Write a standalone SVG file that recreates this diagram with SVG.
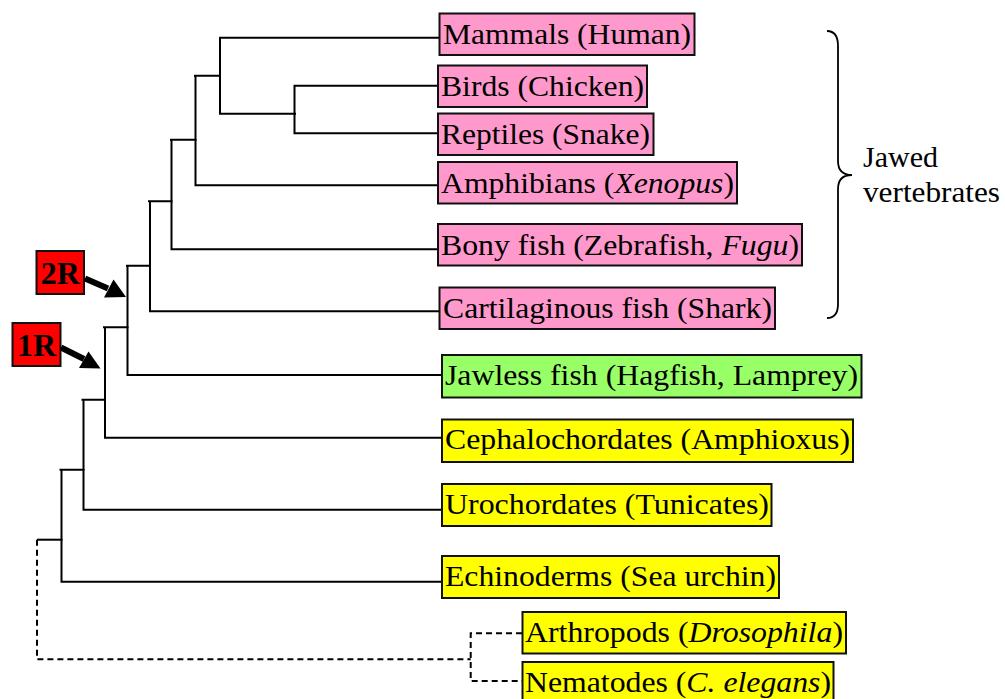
<svg xmlns="http://www.w3.org/2000/svg" width="1005" height="699" viewBox="0 0 1005 699">
<style>
.box{stroke:#111;stroke-width:2}
.pink{fill:#ff99cc}
.green{fill:#99ff66}
.yellow{fill:#ffff00}
.red{fill:#ff0000}
.lbl{font-family:"Liberation Serif","Times New Roman",serif;font-size:30px;fill:#000}
.tag{font-family:"Liberation Serif","Times New Roman",serif;font-size:32px;font-weight:bold;fill:#000}
.it{font-style:italic}
.edge{fill:none;stroke:#000;stroke-width:2;stroke-linecap:square}
.dash{fill:none;stroke:#000;stroke-width:2;stroke-dasharray:6,4}
</style>
<rect width="1005" height="699" fill="#fff"/>
<g id="connectors">
<path class="edge" d="M220 37.7H440M220 37.7V113.7H295"/>
<path class="edge" d="M294.5 85.7V133.3M294.5 85.7H438M294.5 133.3H438"/>
<path class="edge" d="M195 75.7H220M195.5 75.7V185.3H438"/>
<path class="edge" d="M171 139.7H195.5M171.5 139.7V249.3H438"/>
<path class="edge" d="M149 201.3H171.5M150 201.3V311.3H439"/>
<path class="edge" d="M127 265.7H150M127.5 265.7V375H442"/>
<path class="edge" d="M104 327.3H127.5M105 327.3V437.7H442"/>
<path class="edge" d="M82.5 399.7H105M83.5 399.7V509.7H442"/>
<path class="edge" d="M60.5 469.7H83.5M61.5 469.7V581.7H442"/>
<path class="edge" d="M38 539.7H61.5"/>
<path class="dash" d="M37 539.7V659.3H470.7"/>
<path class="dash" d="M522 633.3H470.7V681H522"/>
</g>
<g id="node-mammals"><rect class="box pink" x="439.5" y="13.5" width="255" height="41.5"/><text class="lbl" x="443" y="44" textLength="248" lengthAdjust="spacingAndGlyphs">Mammals (Human)</text></g>
<g id="node-birds"><rect class="box pink" x="438" y="65.5" width="209" height="41.5"/><text class="lbl" x="441" y="96" textLength="203" lengthAdjust="spacingAndGlyphs">Birds (Chicken)</text></g>
<g id="node-reptiles"><rect class="box pink" x="438" y="113.5" width="215.5" height="41.5"/><text class="lbl" x="441" y="144" textLength="209" lengthAdjust="spacingAndGlyphs">Reptiles (Snake)</text></g>
<g id="node-amphibians"><rect class="box pink" x="438" y="162" width="299" height="41.5"/><text class="lbl" x="441" y="192.5" textLength="293" lengthAdjust="spacingAndGlyphs">Amphibians (<tspan class="it">Xenopus</tspan>)</text></g>
<g id="node-bonyfish"><rect class="box pink" x="438" y="224" width="364" height="41.5"/><text class="lbl" x="441" y="254.5" textLength="358" lengthAdjust="spacingAndGlyphs">Bony fish (Zebrafish, <tspan class="it">Fugu</tspan>)</text></g>
<g id="node-cartilaginous"><rect class="box pink" x="439.5" y="287.5" width="335.5" height="41.5"/><text class="lbl" x="443" y="318" textLength="329" lengthAdjust="spacingAndGlyphs">Cartilaginous fish (Shark)</text></g>
<g id="node-jawless"><rect class="box green" x="442" y="355" width="419.5" height="42.5"/><text class="lbl" x="445" y="385" textLength="413" lengthAdjust="spacingAndGlyphs">Jawless fish (Hagfish, Lamprey)</text></g>
<g id="node-cephalochordates"><rect class="box yellow" x="442" y="419.5" width="411" height="42.5"/><text class="lbl" x="445" y="449" textLength="405" lengthAdjust="spacingAndGlyphs">Cephalochordates (Amphioxus)</text></g>
<g id="node-urochordates"><rect class="box yellow" x="442" y="484" width="329.5" height="42"/><text class="lbl" x="445" y="513.5" textLength="324" lengthAdjust="spacingAndGlyphs">Urochordates (Tunicates)</text></g>
<g id="node-echinoderms"><rect class="box yellow" x="442" y="556" width="337" height="42"/><text class="lbl" x="445" y="585.5" textLength="331" lengthAdjust="spacingAndGlyphs">Echinoderms (Sea urchin)</text></g>
<g id="node-arthropods"><rect class="box yellow" x="522.5" y="612" width="323.5" height="41.5"/><text class="lbl" x="525" y="642" textLength="318" lengthAdjust="spacingAndGlyphs">Arthropods (<tspan class="it">Drosophila</tspan>)</text></g>
<g id="node-nematodes"><rect class="box yellow" x="522.5" y="662" width="311" height="42"/><text class="lbl" x="525" y="692" textLength="306" lengthAdjust="spacingAndGlyphs">Nematodes (<tspan class="it">C. elegans</tspan>)</text></g>
<g id="brace-jawed">
<path d="M827 31Q838 31 838 46V161Q838 175 852 175Q838 175 838 189V304Q838 318 827 318" fill="none" stroke="#000" stroke-width="1.8"/>
<text class="lbl" x="863" y="167">Jawed</text>
<text class="lbl" x="863" y="202" textLength="137" lengthAdjust="spacingAndGlyphs">vertebrates</text>
</g>
<g id="marker-2R">
<rect class="box red" x="36.5" y="251" width="47.5" height="43"/>
<text class="tag" x="60.2" y="284" text-anchor="middle">2R</text>
<path d="M85 278.5L108 288.5" stroke="#000" stroke-width="6"/>
<polygon points="126,297 113.5,279.5 104,297.5"/>
</g>
<g id="marker-1R">
<rect class="box red" x="12.5" y="323" width="48" height="43"/>
<text class="tag" x="36.5" y="356" text-anchor="middle">1R</text>
<path d="M61 347.5L84 359" stroke="#000" stroke-width="6"/>
<polygon points="100.5,368.5 88.5,351.5 79,368"/>
</g>
</svg>
